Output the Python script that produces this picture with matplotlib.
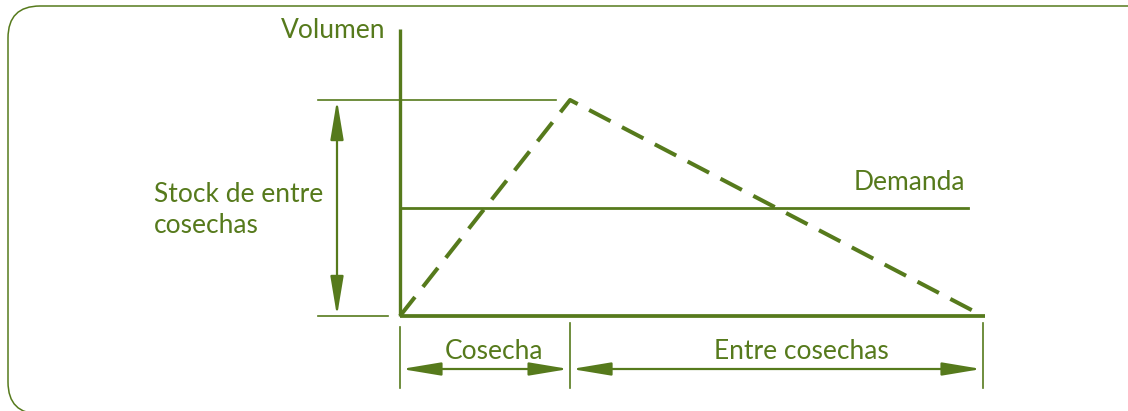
import matplotlib
matplotlib.use("Agg")
import matplotlib.pyplot as plt
from matplotlib.patches import FancyBboxPatch
from matplotlib.transforms import IdentityTransform

# ---- schematic data (time in months, volume relative to peak stock) ----
harvest_end = 3.5          # end of "Cosecha"
cycle_end = 12.0           # end of "Entre cosechas"
stock_time = [0.0, harvest_end, cycle_end]
stock_volume = [0.0, 1.0, 0.0]
demand_level = 0.5
axis_top = 1.33
labels_period = ["Cosecha", "Entre cosechas"]
label_y = "Volumen"
label_stock = "Stock de entre\ncosechas"
label_demand = "Demanda"

C = "#567a1c"
FONT = "Lato"
FS = 19
W, H = 1128, 411
fig = plt.figure(figsize=(W / 100, H / 100), dpi=100)
ax = fig.add_axes([0, 0, 1, 1])
# pixel geometry of the diagram: origin at (400,316), x=12 at px 983, y=1 at px 100
px_x = (983 - 400) / cycle_end
px_y = 316 - 100
ax.set_xlim(-400 / px_x, (W - 400) / px_x)
ax.set_ylim(-(H - 316) / px_y, 316 / px_y)
ax.axis("off")

def dx(p):
    return p / px_x

def dy(p):
    return p / px_y

# rounded frame
frame = FancyBboxPatch((8, H - 414), 1160 - 8, 414 - 6,
                       boxstyle="round,pad=0,rounding_size=32",
                       transform=IdentityTransform(), fill=False,
                       ec=C, lw=1.1)
fig.patches.append(frame)

# axes
ax.plot([0, 0], [0, axis_top], color=C, lw=2.4, solid_capstyle="butt")
ax.plot([0, cycle_end + dx(2)], [0, 0], color=C, lw=2.7, solid_capstyle="butt")

# stock dashed line
ax.plot(stock_time, stock_volume, color=C, lw=2.9, dashes=(6.0, 3.2))

# demand line
ax.plot([0, cycle_end - dx(15)], [demand_level, demand_level], color=C, lw=2.0)
ax.text(cycle_end - dx(18), demand_level + dy(13), label_demand, color=C,
        fontsize=FS, family=FONT, ha="right", va="bottom")

ARROW = "<|-|>,head_length=1.5,head_width=0.25"

# reference lines for stock
ax.plot([-dx(82), harvest_end - dx(14)], [1.0, 1.0], color=C, lw=1.2)
ax.plot([-dx(82), -dx(12)], [0, 0], color=C, lw=1.2)
ax.annotate("", xy=(-dx(63), 1.0), xytext=(-dx(63), 0),
            arrowprops=dict(arrowstyle=ARROW, color=C, lw=1.6,
                            shrinkA=0, shrinkB=0, mutation_scale=16))
ax.text(-dx(246), dy(106), label_stock, color=C, fontsize=FS, family=FONT,
        ha="left", va="center", linespacing=1.3)

ax.text(-dx(15), axis_top - dy(2), label_y, color=C, fontsize=FS, family=FONT,
        ha="right", va="center")

# period markers
ty = -dy(53)
label_shift = [dx(9), dx(25)]
for xv, top in [(0, -dy(11)), (harvest_end, -dy(7)), (cycle_end, -dy(7))]:
    ax.plot([xv, xv], [top, -dy(72)], color=C, lw=1.2)
for (a, b), lab, sh in zip([(0, harvest_end), (harvest_end, cycle_end)],
                           labels_period, label_shift):
    ax.annotate("", xy=(b, ty), xytext=(a, ty),
                arrowprops=dict(arrowstyle=ARROW, color=C, lw=1.6,
                                shrinkA=1, shrinkB=1, mutation_scale=16))
    ax.text((a + b) / 2 + sh, ty + dy(5), lab, color=C, fontsize=FS,
            family=FONT, ha="center", va="bottom")

fig.savefig("out.png", dpi=100)
